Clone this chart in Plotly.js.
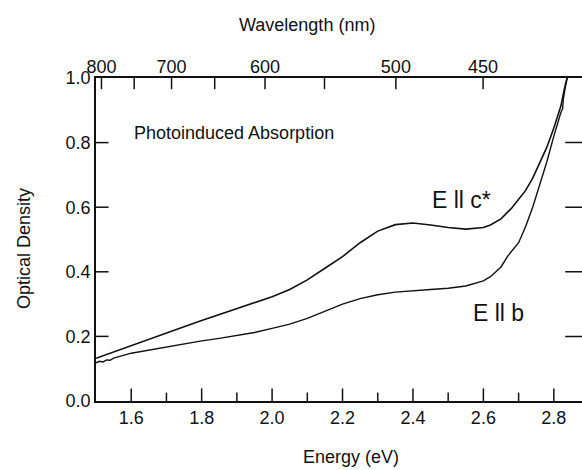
<!DOCTYPE html>
<html>
<head>
<meta charset="utf-8">
<script src="https://cdn.plot.ly/plotly-3.0.1.min.js"></script>
<style>
  html, body { margin: 0; padding: 0; background: #ffffff; overflow: hidden; }
  #chart { width: 582px; height: 470px; }
</style>
</head>
<body>
<div id="chart"></div>
<script>
// Photoinduced absorption spectra for two polarizations
const energyC = [1.50, 1.55, 1.60, 1.65, 1.70, 1.75, 1.80, 1.85, 1.90, 1.95, 2.00, 2.05, 2.10, 2.15,
                 2.20, 2.25, 2.30, 2.35, 2.40, 2.45, 2.50, 2.55, 2.60, 2.62, 2.65, 2.68, 2.70, 2.72,
                 2.74, 2.76, 2.78, 2.80, 2.81, 2.82, 2.83, 2.836, 2.842];
const odC =     [0.132, 0.152, 0.171, 0.191, 0.210, 0.230, 0.249, 0.268, 0.287, 0.305, 0.323, 0.345, 0.375, 0.411,
                 0.447, 0.490, 0.526, 0.546, 0.551, 0.545, 0.537, 0.532, 0.537, 0.545, 0.564, 0.597, 0.624, 0.652,
                 0.690, 0.735, 0.785, 0.845, 0.878, 0.913, 0.966, 0.994, 1.010];

const energyB = [1.50, 1.51, 1.52, 1.53, 1.54, 1.55, 1.60, 1.65, 1.70, 1.75, 1.80, 1.85, 1.90, 1.95, 2.00,
                 2.05, 2.10, 2.15, 2.20, 2.25, 2.30, 2.35, 2.40, 2.45, 2.50, 2.55, 2.60, 2.62, 2.65,
                 2.67, 2.70, 2.72, 2.74, 2.76, 2.78, 2.80, 2.81, 2.82, 2.825, 2.827, 2.833, 2.839];
const odB =     [0.118, 0.123, 0.121, 0.127, 0.126, 0.133, 0.148, 0.158, 0.168, 0.177, 0.186, 0.194, 0.202, 0.212, 0.225,
                 0.238, 0.256, 0.278, 0.300, 0.317, 0.329, 0.337, 0.342, 0.345, 0.349, 0.356, 0.372, 0.385, 0.415,
                 0.450, 0.490, 0.540, 0.600, 0.670, 0.740, 0.820, 0.860, 0.893, 0.905, 0.935, 0.973, 1.005];

// Energy axis ticks
const energyMajor = [1.6, 1.8, 2.0, 2.2, 2.4, 2.6, 2.8];
const energyMinor = [1.7, 1.9, 2.1, 2.3, 2.5, 2.7];

// Top axis: wavelength ticks (nm) and their labels
const wavelengths = [800, 750, 700, 650, 600, 550, 500, 450];
const wavelengthLabels = ['800', '', '700', '', '600', '', '500', '450'];
const HC = 1239.84; // eV·nm

const yTicks = [0, 0.2, 0.4, 0.6, 0.8, 1.0];

const FONT = 'Arial, "Liberation Sans", Helvetica, sans-serif';
const INK = '#111111';
const X_RANGE = [1.5, 2.880];
const Y_RANGE = [0, 1];
const TOP_RANGE = [(96 + 389.2) / 316.6, (582 + 389.2) / 316.6];
const topTickVals = wavelengths.map(w => HC / w);
const innerY = yTicks.slice(1, -1);

// tick marks as line-shaped markers centred on the frame; the half outside is clipped
function tickMarks(x, y, symbol, size, axes) {
  return Object.assign({
    x, y, mode: 'markers', hoverinfo: 'skip', cliponaxis: true,
    marker: { symbol, size, color: INK, line: { color: INK, width: 1.5 } }
  }, axes || {});
}

const traces = [
  { x: energyC, y: odC, mode: 'lines', name: 'E ll c*', line: { color: INK, width: 1.6 } },
  { x: energyB, y: odB, mode: 'lines', name: 'E ll b', line: { color: INK, width: 1.4 } },
  tickMarks(energyMajor, energyMajor.map(() => Y_RANGE[0]), 'line-ns-open', 18),
  tickMarks(energyMinor, energyMinor.map(() => Y_RANGE[0]), 'line-ns-open', 12),
  tickMarks(innerY.map(() => X_RANGE[0]), innerY, 'line-ew-open', 18),
  tickMarks(topTickVals, topTickVals.map(() => Y_RANGE[1]), 'line-ns-open', 16, { xaxis: 'x2', yaxis: 'y' }),
  tickMarks(innerY.map(() => X_RANGE[1]), innerY, 'line-ew-open', 24)
];

const tickFont = { family: FONT, size: 18, color: INK };

const layout = {
  width: 582,
  height: 470,
  margin: { l: 96, r: 0, t: 78, b: 69 },
  paper_bgcolor: '#ffffff',
  plot_bgcolor: '#ffffff',
  showlegend: false,
  font: { family: FONT, size: 18, color: INK },
  xaxis: {
    range: X_RANGE, autorange: false,
    tickmode: 'array', tickvals: energyMajor, tickformat: '.1f',
    ticks: '', showline: true, mirror: true, linecolor: INK, linewidth: 1.6,
    showgrid: false, zeroline: false,
    tickfont: tickFont
  },
  xaxis2: {
    overlaying: 'x', side: 'top', anchor: 'y',
    range: TOP_RANGE, autorange: false,
    tickmode: 'array', tickvals: topTickVals, ticktext: wavelengthLabels,
    ticks: '', showline: false, showgrid: false, zeroline: false,
    tickfont: tickFont
  },
  yaxis: {
    range: Y_RANGE, autorange: false,
    tickmode: 'array', tickvals: yTicks, tickformat: '.1f',
    ticks: '', showline: true, linecolor: INK, linewidth: 1.6,
    showgrid: false, zeroline: false,
    tickfont: tickFont
  },
  annotations: [
    { text: 'Wavelength (nm)', xref: 'paper', yref: 'paper', x: 0.4335, y: 1.164,
      xanchor: 'center', yanchor: 'middle', showarrow: false, font: { family: FONT, size: 18, color: INK } },
    { text: 'Energy (eV)', xref: 'paper', yref: 'paper', x: 0.525, y: -0.173,
      xanchor: 'center', yanchor: 'middle', showarrow: false, font: { family: FONT, size: 18, color: INK } },
    { text: 'Optical Density', xref: 'paper', yref: 'paper', x: -0.148, y: 0.4706, textangle: -90,
      xanchor: 'center', yanchor: 'middle', showarrow: false, font: { family: FONT, size: 18, color: INK } },
    { text: 'Photoinduced Absorption', xref: 'paper', yref: 'paper', x: 0.0741, y: 0.8307,
      xanchor: 'left', yanchor: 'middle', showarrow: false, font: { family: FONT, size: 18, color: INK } },
    { text: 'E ll c*', xref: 'paper', yref: 'paper', x: 0.6870, y: 0.6223,
      xanchor: 'left', yanchor: 'middle', showarrow: false, font: { family: FONT, size: 23, color: INK } },
    { text: 'E ll b', xref: 'paper', yref: 'paper', x: 0.7715, y: 0.2715,
      xanchor: 'left', yanchor: 'middle', showarrow: false, font: { family: FONT, size: 23, color: INK } }
  ]
};

Plotly.newPlot('chart', traces, layout, { displayModeBar: false });
</script>
</body>
</html>
